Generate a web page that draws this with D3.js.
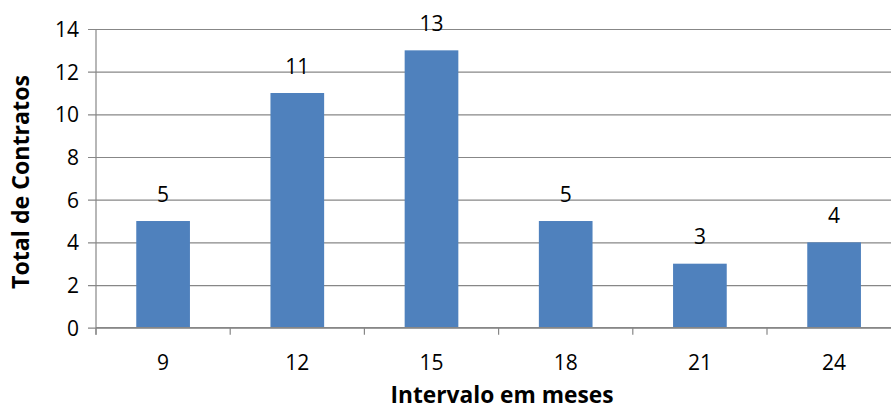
<!DOCTYPE html>
<html>
<head>
<meta charset="utf-8">
<script src="https://cdn.jsdelivr.net/npm/d3@7"></script>
<style>
  html, body { margin: 0; padding: 0; background: #fff; }
  svg { display: block; }
  text { font-family: "Open Sans", "Liberation Sans", sans-serif; fill: #000; }
</style>
</head>
<body>
<svg id="chart" width="891" height="411"></svg>
<script>
// Contracts by renewal interval (months)
const intervals = ["9", "12", "15", "18", "21", "24"];
const totals = [5, 11, 13, 5, 3, 4];
const yTicks = [0, 2, 4, 6, 8, 10, 12, 14];
const xTitle = "Intervalo em meses";
const yTitle = "Total de Contratos";

const svg = d3.select("#chart");
const plotLeft = 96, plotRight = 901.2, plotTop = 29, plotBottom = 327.7;

const x = d3.scaleBand()
  .domain(intervals)
  .range([plotLeft, plotRight])
  .paddingInner(0.6)
  .paddingOuter(0.3);

const y = d3.scaleLinear().domain([0, 14]).range([plotBottom, plotTop]);

const gridColor = "#878787";

// horizontal gridlines with short tick stubs on the left
const yAxis = d3.axisLeft(y)
  .tickValues(yTicks)
  .tickSize(-(plotRight - plotLeft))
  .tickSizeOuter(0)
  .tickPadding(17)
  .tickFormat(d3.format("d"));

const gy = svg.append("g")
  .attr("transform", `translate(${plotLeft},0)`)
  .call(yAxis);
gy.select(".domain").remove();
gy.selectAll(".tick line")
  .attr("x1", -8)
  .attr("stroke", gridColor)
  .attr("stroke-width", 1.2);
gy.selectAll(".tick text")
  .style("font-size", "21px")
  .attr("dy", "0.35em");

// vertical axis line
svg.append("line")
  .attr("x1", plotLeft).attr("x2", plotLeft)
  .attr("y1", plotTop).attr("y2", plotBottom + 7)
  .attr("stroke", gridColor).attr("stroke-width", 1.2);

const rows = intervals.map((k, i) => ({ k, v: totals[i] }));

// bars
svg.append("g").selectAll("rect")
  .data(rows)
  .join("rect")
  .attr("x", d => x(d.k))
  .attr("width", x.bandwidth())
  .attr("y", d => y(d.v))
  .attr("height", d => y(0) - y(d.v))
  .attr("fill", "#4F81BD");

// value labels
svg.append("g").selectAll("text")
  .data(rows)
  .join("text")
  .attr("x", d => x(d.k) + x.bandwidth() / 2)
  .attr("y", d => y(d.v) - 19.5)
  .attr("text-anchor", "middle")
  .style("font-size", "21px")
  .text(d => d.v);

// category axis along the bottom
const xAxis = d3.axisBottom(x).tickSize(0).tickPadding(27).tickSizeOuter(0);
const gx = svg.append("g")
  .attr("transform", `translate(0,${plotBottom})`)
  .call(xAxis);
gx.select(".domain").remove();
gx.selectAll(".tick text").style("font-size", "21px");

svg.append("line")
  .attr("x1", plotLeft).attr("x2", plotRight)
  .attr("y1", plotBottom).attr("y2", plotBottom)
  .attr("stroke", gridColor).attr("stroke-width", 1.2);

// tick marks at category boundaries
const step = x.step();
const bounds = d3.range(intervals.length + 1).map(i => plotLeft + i * step);
svg.append("g").selectAll("line")
  .data(bounds)
  .join("line")
  .attr("x1", d => d).attr("x2", d => d)
  .attr("y1", plotBottom).attr("y2", plotBottom + 7)
  .attr("stroke", gridColor).attr("stroke-width", 1.2);

// axis titles
function fitWidth(sel, target) {
  const w = sel.node().getComputedTextLength();
  const fs = parseFloat(sel.style("font-size"));
  sel.style("font-size", (fs * target / w).toFixed(2) + "px");
}

const xt = svg.append("text")
  .attr("x", 502)
  .attr("y", 403)
  .attr("text-anchor", "middle")
  .style("font-size", "20px")
  .style("font-weight", "bold")
  .text(xTitle);
fitWidth(xt, 223);

const yt = svg.append("text")
  .attr("transform", "translate(29,182) rotate(-90)")
  .attr("text-anchor", "middle")
  .style("font-size", "20px")
  .style("font-weight", "bold")
  .text(yTitle);
fitWidth(yt, 214);
</script>
</body>
</html>
